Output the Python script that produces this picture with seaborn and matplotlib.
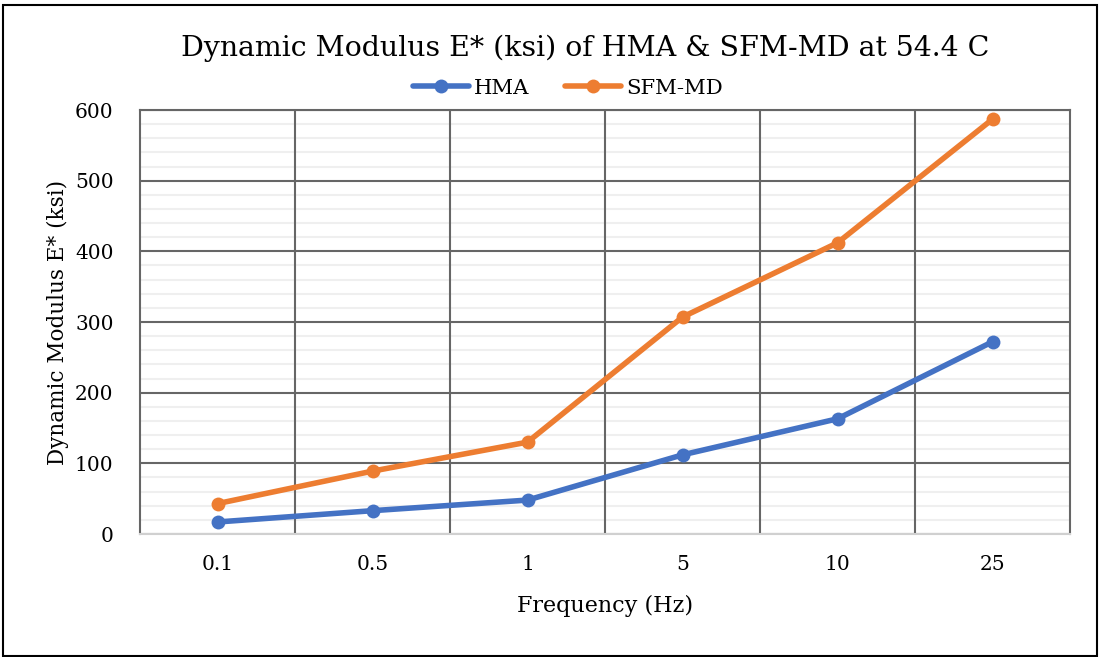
import matplotlib
matplotlib.use("Agg")
import matplotlib.pyplot as plt
import seaborn as sns
import pandas as pd
import numpy as np
from matplotlib.ticker import MultipleLocator, FixedLocator
from matplotlib.lines import Line2D
from matplotlib.patches import Rectangle

frequencies = ["0.1", "0.5", "1", "5", "10", "25"]
hma = [17, 33, 48, 112, 163, 272]
sfm_md = [43, 89, 130, 307, 412, 587]
series_names = ["HMA", "SFM-MD"]
colors = ["#4472C4", "#ED7D31"]

df = pd.DataFrame({
    "Frequency": frequencies * 2,
    "E": hma + sfm_md,
    "Series": [series_names[0]] * len(frequencies) + [series_names[1]] * len(frequencies),
})

sns.set_theme(style="white")
plt.rcParams["font.family"] = ["DejaVu Serif"]
plt.rcParams["text.color"] = "black"
plt.rcParams["axes.labelcolor"] = "black"

fig = plt.figure(figsize=(10.99, 6.57), dpi=100)
ax = fig.add_axes([140/1099, 1-534/657, (1070-140)/1099, (534-110)/657])

sns.lineplot(data=df, x="Frequency", y="E", hue="Series", palette=colors,
             marker="o", markersize=10, markeredgewidth=0, linewidth=4,
             ax=ax, legend=False, zorder=5)

n = len(frequencies)
ax.set_xlim(-0.5, n - 0.5)
ax.set_ylim(0, 600)
ax.yaxis.set_major_locator(MultipleLocator(100))
ax.yaxis.set_minor_locator(MultipleLocator(20))
ax.xaxis.set_minor_locator(FixedLocator(np.arange(n)))
ax.set_xticks(np.arange(n))
ax.set_xticklabels(frequencies)

dark = "#666666"
light = "#efefef"
ax.grid(which="minor", axis="both", color=light, linewidth=1.5, zorder=0)
ax.grid(which="major", axis="y", color=dark, linewidth=1.5, zorder=1)
for xb in np.arange(0.5, n - 0.5, 1.0):
    ax.axvline(xb, color=dark, linewidth=1.5, zorder=1)
ax.set_axisbelow(True)

for s in ["top", "left", "right"]:
    ax.spines[s].set_color(dark)
    ax.spines[s].set_linewidth(1.5)
ax.spines["bottom"].set_color("#d0d0d0")
ax.spines["bottom"].set_linewidth(1.5)

ax.tick_params(axis="both", which="both", length=0, labelsize=14.5, colors="black")
ax.tick_params(axis="y", pad=19)
ax.tick_params(axis="x", pad=15)
ax.set_xlabel("Frequency (Hz)", fontsize=16, labelpad=15)
ax.set_ylabel("Dynamic Modulus E* (ksi)", fontsize=15.5, labelpad=4)

fig.text(585/1099, 1 - 48/657, "Dynamic Modulus E* (ksi) of HMA & SFM-MD at 54.4 C",
         ha="center", va="center", fontsize=20.4, color="black")

handles = [Line2D([], [], color=c, marker="o", markersize=10, markeredgewidth=0, linewidth=4)
           for c in colors]
fig.legend(handles, series_names, loc="center", bbox_to_anchor=(568/1099, 1 - 88/657),
           ncol=2, frameon=False, fontsize=15.3, handlelength=2.6, columnspacing=1.7,
           handletextpad=0.25, borderpad=0)

fig.patches.append(Rectangle((3/1099, 1/657), 1094/1099, 651/657, transform=fig.transFigure,
                             fill=False, edgecolor="black", linewidth=1.5))

fig.savefig("out.png", dpi=100)
